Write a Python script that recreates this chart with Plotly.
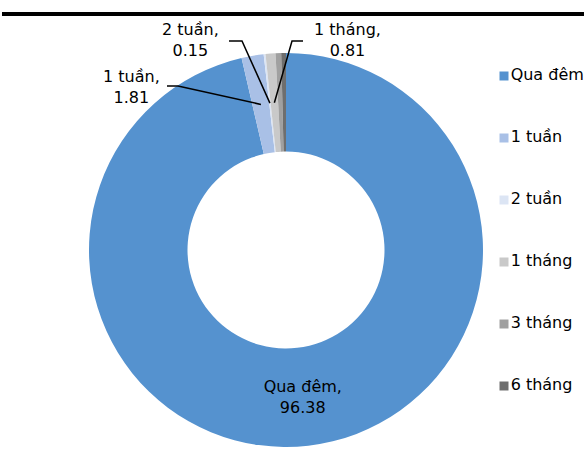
import math
import plotly.graph_objects as go

# dữ liệu
labels = ["Qua đêm", "1 tuần", "2 tuần", "1 tháng", "3 tháng", "6 tháng"]
values = [96.38, 1.81, 0.15, 0.81, 0.46, 0.39]
colors = ["#5592CF", "#A9C0E6", "#DCE5F4", "#C9C9C9", "#A0A0A0", "#6E6E6E"]

W, H = 584, 449
CX, CY, R = 286, 250, 197
HOLE = 0.5
FONT = "DejaVu Sans"

# label callouts: (center of text, start of leader, elbow)
callouts = {
    "1 tuần": ((131, 87), (167, 86), (178, 86)),
    "2 tuần": ((190, 40), (229, 41), (242, 41)),
    "1 tháng": ((347, 40), (303, 41), (292, 41)),
}


def px(x, y):
    return x / W, 1 - y / H


fig = go.Figure()

fig.add_trace(go.Pie(
    labels=labels,
    values=values,
    hole=HOLE,
    sort=False,
    direction="clockwise",
    rotation=0,
    marker=dict(colors=colors, line=dict(width=0)),
    texttemplate=["%{label},<br>%{value:.2f}"] + [""] * (len(labels) - 1),
    textposition="inside",
    insidetextorientation="horizontal",
    textfont=dict(family=FONT, size=16, color="black"),
    domain=dict(x=[(CX - R) / W, (CX + R) / W],
                y=[1 - (CY + R) / H, 1 - (CY - R) / H]),
    showlegend=False,
    hoverinfo="skip",
))

# legend built from the categories
fig.add_trace(go.Scatter(
    x=[0] * len(labels),
    y=labels,
    mode="markers+text",
    marker=dict(symbol="square", size=9, color=colors),
    text=labels,
    textposition="middle right",
    textfont=dict(family=FONT, size=16, color="black"),
    cliponaxis=False,
    showlegend=False,
    hoverinfo="skip",
))

total = sum(values)
shapes = [dict(type="line", xref="paper", yref="paper",
               x0=2 / W, x1=1, y0=1 - 14 / H, y1=1 - 14 / H,
               line=dict(color="black", width=4))]
annotations = []
cum = 0
r_mid = R * (1 + HOLE) / 2
for lab, val in zip(labels, values):
    if lab in callouts:
        theta = 2 * math.pi * (cum + val / 2) / total
        sx = CX + r_mid * math.sin(theta)
        sy = CY - r_mid * math.cos(theta)
        (tx, ty), (hx, hy), (ex, ey) = callouts[lab]
        p0, p1, p2 = px(hx, hy), px(ex, ey), px(sx, sy)
        shapes.append(dict(
            type="path", xref="paper", yref="paper", layer="above",
            path=f"M {p0[0]},{p0[1]} L {p1[0]},{p1[1]} L {p2[0]},{p2[1]}",
            line=dict(color="black", width=1.5),
        ))
        ax, ay = px(tx, ty)
        annotations.append(dict(
            x=ax, y=ay, xref="paper", yref="paper", showarrow=False,
            xanchor="center", yanchor="middle",
            text=f"{lab},<br>{val:.2f}", align="center",
            font=dict(family=FONT, size=16, color="black"),
        ))
    cum += val

n = len(labels)
fig.update_layout(
    width=W,
    height=H,
    margin=dict(l=0, r=0, t=0, b=0),
    paper_bgcolor="white",
    plot_bgcolor="rgba(0,0,0,0)",
    xaxis=dict(domain=[504 / W, 1], range=[0, 1], visible=False, fixedrange=True),
    yaxis=dict(domain=[1 - 417 / H, 1 - 45 / H], range=[n - 0.5, -0.5],
               type="category", visible=False, fixedrange=True),
    shapes=shapes,
    annotations=annotations,
)

fig.write_html("out.html", config={"displayModeBar": False},
               post_script="document.body.style.margin='0';")
